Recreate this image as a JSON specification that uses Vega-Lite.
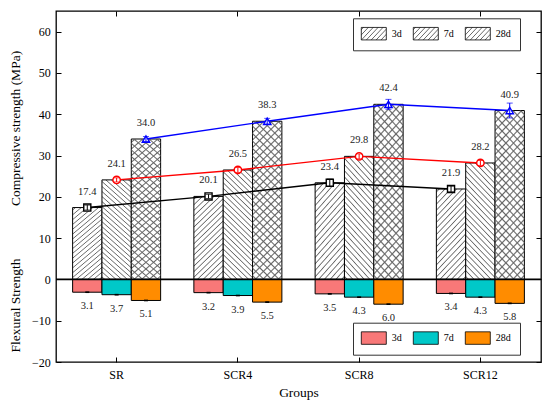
{
  "$schema": "https://vega.github.io/schema/vega-lite/v6.json",
  "width": 485,
  "height": 351,
  "autosize": {"type": "none"},
  "padding": {"left": 56, "top": 11, "right": 9, "bottom": 46},
  "background": "white",
  "config": {
    "font": "Liberation Serif, Times New Roman, serif",
    "view": {"stroke": "black", "strokeWidth": 1.3},
    "axis": {
      "grid": false,
      "domain": false,
      "tickColor": "black",
      "tickWidth": 1,
      "labelFont": "Liberation Serif, Times New Roman, serif",
      "labelFontSize": 12,
      "labelColor": "black",
      "titleFont": "Liberation Serif, Times New Roman, serif",
      "titleFontSize": 13.5,
      "titleFontWeight": "normal",
      "titleColor": "black"
    },
    "legend": {
      "symbolType": "M-2,-1H2V1H-2Z",
      "symbolSize": 156.25,
      "symbolStrokeWidth": 0.8,
      "symbolStrokeColor": "black",
      "symbolOffset": 5.5,
      "labelOffset": 11,
      "padding": 8.3,
      "columnPadding": 9,
      "strokeColor": "#333",
      "labelFont": "Liberation Serif, Times New Roman, serif",
      "labelFontSize": 10,
      "labelColor": "black"
    }
  },
  "data": {
    "values": [
      {"group": "SR", "age": "3d", "comp": 17.4, "compLo": 16.8, "compHi": 18.0, "flex": 3.1, "flexLo": 2.9, "flexHi": 3.3},
      {"group": "SR", "age": "7d", "comp": 24.1, "compLo": 23.6, "compHi": 24.6, "flex": 3.7, "flexLo": 3.5, "flexHi": 3.9},
      {"group": "SR", "age": "28d", "comp": 34.0, "compLo": 33.4, "compHi": 34.6, "flex": 5.1, "flexLo": 4.9, "flexHi": 5.3},
      {"group": "SCR4", "age": "3d", "comp": 20.1, "compLo": 19.6, "compHi": 20.6, "flex": 3.2, "flexLo": 3.0, "flexHi": 3.4},
      {"group": "SCR4", "age": "7d", "comp": 26.5, "compLo": 25.9, "compHi": 27.1, "flex": 3.9, "flexLo": 3.7, "flexHi": 4.1},
      {"group": "SCR4", "age": "28d", "comp": 38.3, "compLo": 37.6, "compHi": 39.0, "flex": 5.5, "flexLo": 5.3, "flexHi": 5.7},
      {"group": "SCR8", "age": "3d", "comp": 23.4, "compLo": 22.5, "compHi": 24.3, "flex": 3.5, "flexLo": 3.3, "flexHi": 3.7},
      {"group": "SCR8", "age": "7d", "comp": 29.8, "compLo": 29.2, "compHi": 30.4, "flex": 4.3, "flexLo": 4.1, "flexHi": 4.5},
      {"group": "SCR8", "age": "28d", "comp": 42.4, "compLo": 41.2, "compHi": 43.6, "flex": 6.0, "flexLo": 5.8, "flexHi": 6.2},
      {"group": "SCR12", "age": "3d", "comp": 21.9, "compLo": 21.2, "compHi": 22.6, "flex": 3.4, "flexLo": 3.2, "flexHi": 3.6},
      {"group": "SCR12", "age": "7d", "comp": 28.2, "compLo": 27.6, "compHi": 28.8, "flex": 4.3, "flexLo": 4.1, "flexHi": 4.5},
      {"group": "SCR12", "age": "28d", "comp": 40.9, "compLo": 39.1, "compHi": 42.7, "flex": 5.8, "flexLo": 5.6, "flexHi": 6.0}
    ]
  },
  "resolve": {"scale": {"y": "independent"}, "axis": {"x": "independent"}},
  "layer": [
    {
      "encoding": {
        "x": {
          "field": "group", "type": "nominal",
          "scale": {"domain": ["SR", "SCR4", "SCR8", "SCR12"], "paddingInner": 0.274, "paddingOuter": 0.137},
          "axis": {"orient": "bottom", "labelAngle": 0, "tickSize": -5, "labelPadding": 12, "title": "Groups", "titleY": 30, "titleBaseline": "middle"}
        },
        "xOffset": {"field": "age", "type": "nominal", "scale": {"domain": ["3d", "7d", "28d"], "paddingInner": 0, "paddingOuter": 0}},
        "y": {
          "field": "comp", "type": "quantitative",
          "scale": {"domain": [-20, 65], "nice": false, "zero": false},
          "axis": {"orient": "left", "values": [-20, -10, 0, 10, 20, 30, 40, 50, 60], "tickSize": -5, "labelPadding": 10.7,
                   "title": "Compressive strength (MPa)", "titleX": -41, "titleY": 117, "titleAngle": -90, "titleBaseline": "middle", "titleAlign": "center"}
        }
      },
      "layer": [
        {
          "transform": [{"filter": "datum.age === '3d'"}],
          "mark": {"type": "bar", "stroke": "black", "strokeWidth": 1,
            "fill": {"gradient": "linear", "x1": 0, "y1": 0, "x2": 0.412, "y2": 1.202, "stops": [
              {"offset": 0.015, "color": "#fff"}, {"offset": 0.025, "color": "#666"}, {"offset": 0.035, "color": "#fff"},
              {"offset": 0.065, "color": "#fff"}, {"offset": 0.075, "color": "#666"}, {"offset": 0.085, "color": "#fff"},
              {"offset": 0.115, "color": "#fff"}, {"offset": 0.125, "color": "#666"}, {"offset": 0.135, "color": "#fff"},
              {"offset": 0.165, "color": "#fff"}, {"offset": 0.175, "color": "#666"}, {"offset": 0.185, "color": "#fff"},
              {"offset": 0.215, "color": "#fff"}, {"offset": 0.225, "color": "#666"}, {"offset": 0.235, "color": "#fff"},
              {"offset": 0.265, "color": "#fff"}, {"offset": 0.275, "color": "#666"}, {"offset": 0.285, "color": "#fff"},
              {"offset": 0.315, "color": "#fff"}, {"offset": 0.325, "color": "#666"}, {"offset": 0.335, "color": "#fff"},
              {"offset": 0.365, "color": "#fff"}, {"offset": 0.375, "color": "#666"}, {"offset": 0.385, "color": "#fff"},
              {"offset": 0.415, "color": "#fff"}, {"offset": 0.425, "color": "#666"}, {"offset": 0.435, "color": "#fff"},
              {"offset": 0.465, "color": "#fff"}, {"offset": 0.475, "color": "#666"}, {"offset": 0.485, "color": "#fff"},
              {"offset": 0.515, "color": "#fff"}, {"offset": 0.525, "color": "#666"}, {"offset": 0.535, "color": "#fff"},
              {"offset": 0.565, "color": "#fff"}, {"offset": 0.575, "color": "#666"}, {"offset": 0.585, "color": "#fff"},
              {"offset": 0.615, "color": "#fff"}, {"offset": 0.625, "color": "#666"}, {"offset": 0.635, "color": "#fff"},
              {"offset": 0.665, "color": "#fff"}, {"offset": 0.675, "color": "#666"}, {"offset": 0.685, "color": "#fff"},
              {"offset": 0.715, "color": "#fff"}, {"offset": 0.725, "color": "#666"}, {"offset": 0.735, "color": "#fff"},
              {"offset": 0.765, "color": "#fff"}, {"offset": 0.775, "color": "#666"}, {"offset": 0.785, "color": "#fff"},
              {"offset": 0.815, "color": "#fff"}, {"offset": 0.825, "color": "#666"}, {"offset": 0.835, "color": "#fff"},
              {"offset": 0.865, "color": "#fff"}, {"offset": 0.875, "color": "#666"}, {"offset": 0.885, "color": "#fff"},
              {"offset": 0.915, "color": "#fff"}, {"offset": 0.925, "color": "#666"}, {"offset": 0.935, "color": "#fff"},
              {"offset": 0.965, "color": "#fff"}, {"offset": 0.975, "color": "#666"}, {"offset": 0.985, "color": "#fff"}
            ]}
          },
          "encoding": {
            "stroke": {
              "field": "age", "type": "nominal",
              "scale": {"domain": ["3d", "7d", "28d"], "range": ["black", "black", "black"]},
              "legend": {
                "orient": "none", "legendX": 297, "legendY": 7.3, "direction": "horizontal", "title": null, "fillColor": "white",
                "encode": {
                  "symbols": {
                    "shape": {
                      "condition": [
                        {"test": "datum.value === '3d'", "value": "M-2,-1H2V1H-2ZM-2,-0.6L-1.6,-1M-2,0.2L-0.8,-1M-2,1L0,-1M-1.2,1L0.8,-1M-0.4,1L1.6,-1M0.4,1L2,-0.6M1.2,1L2,0.2"},
                        {"test": "datum.value === '7d'", "value": "M-2,-1H2V1H-2ZM2,-0.6L1.6,-1M2,0.2L0.8,-1M2,1L0,-1M1.2,1L-0.8,-1M0.4,1L-1.6,-1M-0.4,1L-2,-0.6M-1.2,1L-2,0.2"}
                      ],
                      "value": "M-2,-1H2V1H-2ZM-2,-0.6L-1.6,-1M-2,0.2L-0.8,-1M-2,1L0,-1M-1.2,1L0.8,-1M-0.4,1L1.6,-1M0.4,1L2,-0.6M1.2,1L2,0.2M2,-0.6L1.6,-1M2,0.2L0.8,-1M2,1L0,-1M1.2,1L-0.8,-1M0.4,1L-1.6,-1M-0.4,1L-2,-0.6M-1.2,1L-2,0.2"
                    },
                    "fill": {"value": "white"},
                    "stroke": {"value": "black"}
                  }
                }
              }
            }
          }
        },
        {
          "transform": [{"filter": "datum.age === '7d'"}],
          "mark": {"type": "bar", "stroke": "black", "strokeWidth": 1,
            "fill": {"gradient": "linear", "x1": 0, "y1": 1, "x2": 0.309, "y2": -0.181, "stops": [
              {"offset": 0.012, "color": "#fff"}, {"offset": 0.02, "color": "#666"}, {"offset": 0.028, "color": "#fff"},
              {"offset": 0.052, "color": "#fff"}, {"offset": 0.06, "color": "#666"}, {"offset": 0.068, "color": "#fff"},
              {"offset": 0.092, "color": "#fff"}, {"offset": 0.1, "color": "#666"}, {"offset": 0.108, "color": "#fff"},
              {"offset": 0.132, "color": "#fff"}, {"offset": 0.14, "color": "#666"}, {"offset": 0.148, "color": "#fff"},
              {"offset": 0.172, "color": "#fff"}, {"offset": 0.18, "color": "#666"}, {"offset": 0.188, "color": "#fff"},
              {"offset": 0.212, "color": "#fff"}, {"offset": 0.22, "color": "#666"}, {"offset": 0.228, "color": "#fff"},
              {"offset": 0.252, "color": "#fff"}, {"offset": 0.26, "color": "#666"}, {"offset": 0.268, "color": "#fff"},
              {"offset": 0.292, "color": "#fff"}, {"offset": 0.3, "color": "#666"}, {"offset": 0.308, "color": "#fff"},
              {"offset": 0.332, "color": "#fff"}, {"offset": 0.34, "color": "#666"}, {"offset": 0.348, "color": "#fff"},
              {"offset": 0.372, "color": "#fff"}, {"offset": 0.38, "color": "#666"}, {"offset": 0.388, "color": "#fff"},
              {"offset": 0.412, "color": "#fff"}, {"offset": 0.42, "color": "#666"}, {"offset": 0.428, "color": "#fff"},
              {"offset": 0.452, "color": "#fff"}, {"offset": 0.46, "color": "#666"}, {"offset": 0.468, "color": "#fff"},
              {"offset": 0.492, "color": "#fff"}, {"offset": 0.5, "color": "#666"}, {"offset": 0.508, "color": "#fff"},
              {"offset": 0.532, "color": "#fff"}, {"offset": 0.54, "color": "#666"}, {"offset": 0.548, "color": "#fff"},
              {"offset": 0.572, "color": "#fff"}, {"offset": 0.58, "color": "#666"}, {"offset": 0.588, "color": "#fff"},
              {"offset": 0.612, "color": "#fff"}, {"offset": 0.62, "color": "#666"}, {"offset": 0.628, "color": "#fff"},
              {"offset": 0.652, "color": "#fff"}, {"offset": 0.66, "color": "#666"}, {"offset": 0.668, "color": "#fff"},
              {"offset": 0.692, "color": "#fff"}, {"offset": 0.7, "color": "#666"}, {"offset": 0.708, "color": "#fff"},
              {"offset": 0.732, "color": "#fff"}, {"offset": 0.74, "color": "#666"}, {"offset": 0.748, "color": "#fff"},
              {"offset": 0.772, "color": "#fff"}, {"offset": 0.78, "color": "#666"}, {"offset": 0.788, "color": "#fff"},
              {"offset": 0.812, "color": "#fff"}, {"offset": 0.82, "color": "#666"}, {"offset": 0.828, "color": "#fff"},
              {"offset": 0.852, "color": "#fff"}, {"offset": 0.86, "color": "#666"}, {"offset": 0.868, "color": "#fff"},
              {"offset": 0.892, "color": "#fff"}, {"offset": 0.9, "color": "#666"}, {"offset": 0.908, "color": "#fff"},
              {"offset": 0.932, "color": "#fff"}, {"offset": 0.94, "color": "#666"}, {"offset": 0.948, "color": "#fff"},
              {"offset": 0.972, "color": "#fff"}, {"offset": 0.98, "color": "#666"}, {"offset": 0.988, "color": "#fff"}
            ]}
          }
        },
        {
          "transform": [{"filter": "datum.age === '28d'"}],
          "mark": {"type": "bar", "stroke": "black", "strokeWidth": 1,
            "fill": {"gradient": "linear", "x1": 0, "y1": 0, "x2": 0.209, "y2": 1.144, "stops": [
              {"offset": 0.012, "color": "#fff"}, {"offset": 0.02, "color": "#666"}, {"offset": 0.028, "color": "#fff"},
              {"offset": 0.052, "color": "#fff"}, {"offset": 0.06, "color": "#666"}, {"offset": 0.068, "color": "#fff"},
              {"offset": 0.092, "color": "#fff"}, {"offset": 0.1, "color": "#666"}, {"offset": 0.108, "color": "#fff"},
              {"offset": 0.132, "color": "#fff"}, {"offset": 0.14, "color": "#666"}, {"offset": 0.148, "color": "#fff"},
              {"offset": 0.172, "color": "#fff"}, {"offset": 0.18, "color": "#666"}, {"offset": 0.188, "color": "#fff"},
              {"offset": 0.212, "color": "#fff"}, {"offset": 0.22, "color": "#666"}, {"offset": 0.228, "color": "#fff"},
              {"offset": 0.252, "color": "#fff"}, {"offset": 0.26, "color": "#666"}, {"offset": 0.268, "color": "#fff"},
              {"offset": 0.292, "color": "#fff"}, {"offset": 0.3, "color": "#666"}, {"offset": 0.308, "color": "#fff"},
              {"offset": 0.332, "color": "#fff"}, {"offset": 0.34, "color": "#666"}, {"offset": 0.348, "color": "#fff"},
              {"offset": 0.372, "color": "#fff"}, {"offset": 0.38, "color": "#666"}, {"offset": 0.388, "color": "#fff"},
              {"offset": 0.412, "color": "#fff"}, {"offset": 0.42, "color": "#666"}, {"offset": 0.428, "color": "#fff"},
              {"offset": 0.452, "color": "#fff"}, {"offset": 0.46, "color": "#666"}, {"offset": 0.468, "color": "#fff"},
              {"offset": 0.492, "color": "#fff"}, {"offset": 0.5, "color": "#666"}, {"offset": 0.508, "color": "#fff"},
              {"offset": 0.532, "color": "#fff"}, {"offset": 0.54, "color": "#666"}, {"offset": 0.548, "color": "#fff"},
              {"offset": 0.572, "color": "#fff"}, {"offset": 0.58, "color": "#666"}, {"offset": 0.588, "color": "#fff"},
              {"offset": 0.612, "color": "#fff"}, {"offset": 0.62, "color": "#666"}, {"offset": 0.628, "color": "#fff"},
              {"offset": 0.652, "color": "#fff"}, {"offset": 0.66, "color": "#666"}, {"offset": 0.668, "color": "#fff"},
              {"offset": 0.692, "color": "#fff"}, {"offset": 0.7, "color": "#666"}, {"offset": 0.708, "color": "#fff"},
              {"offset": 0.732, "color": "#fff"}, {"offset": 0.74, "color": "#666"}, {"offset": 0.748, "color": "#fff"},
              {"offset": 0.772, "color": "#fff"}, {"offset": 0.78, "color": "#666"}, {"offset": 0.788, "color": "#fff"},
              {"offset": 0.812, "color": "#fff"}, {"offset": 0.82, "color": "#666"}, {"offset": 0.828, "color": "#fff"},
              {"offset": 0.852, "color": "#fff"}, {"offset": 0.86, "color": "#666"}, {"offset": 0.868, "color": "#fff"},
              {"offset": 0.892, "color": "#fff"}, {"offset": 0.9, "color": "#666"}, {"offset": 0.908, "color": "#fff"},
              {"offset": 0.932, "color": "#fff"}, {"offset": 0.94, "color": "#666"}, {"offset": 0.948, "color": "#fff"},
              {"offset": 0.972, "color": "#fff"}, {"offset": 0.98, "color": "#666"}, {"offset": 0.988, "color": "#fff"}
            ]}
          }
        },
        {
          "transform": [{"filter": "datum.age === '28d'"}],
          "mark": {"type": "bar", "strokeWidth": 0,
            "fill": {"gradient": "linear", "x1": 0, "y1": 1, "x2": 0.209, "y2": -0.144, "stops": [
              {"offset": 0.012, "color": "rgba(102,102,102,0)"}, {"offset": 0.02, "color": "#666"}, {"offset": 0.028, "color": "rgba(102,102,102,0)"},
              {"offset": 0.052, "color": "rgba(102,102,102,0)"}, {"offset": 0.06, "color": "#666"}, {"offset": 0.068, "color": "rgba(102,102,102,0)"},
              {"offset": 0.092, "color": "rgba(102,102,102,0)"}, {"offset": 0.1, "color": "#666"}, {"offset": 0.108, "color": "rgba(102,102,102,0)"},
              {"offset": 0.132, "color": "rgba(102,102,102,0)"}, {"offset": 0.14, "color": "#666"}, {"offset": 0.148, "color": "rgba(102,102,102,0)"},
              {"offset": 0.172, "color": "rgba(102,102,102,0)"}, {"offset": 0.18, "color": "#666"}, {"offset": 0.188, "color": "rgba(102,102,102,0)"},
              {"offset": 0.212, "color": "rgba(102,102,102,0)"}, {"offset": 0.22, "color": "#666"}, {"offset": 0.228, "color": "rgba(102,102,102,0)"},
              {"offset": 0.252, "color": "rgba(102,102,102,0)"}, {"offset": 0.26, "color": "#666"}, {"offset": 0.268, "color": "rgba(102,102,102,0)"},
              {"offset": 0.292, "color": "rgba(102,102,102,0)"}, {"offset": 0.3, "color": "#666"}, {"offset": 0.308, "color": "rgba(102,102,102,0)"},
              {"offset": 0.332, "color": "rgba(102,102,102,0)"}, {"offset": 0.34, "color": "#666"}, {"offset": 0.348, "color": "rgba(102,102,102,0)"},
              {"offset": 0.372, "color": "rgba(102,102,102,0)"}, {"offset": 0.38, "color": "#666"}, {"offset": 0.388, "color": "rgba(102,102,102,0)"},
              {"offset": 0.412, "color": "rgba(102,102,102,0)"}, {"offset": 0.42, "color": "#666"}, {"offset": 0.428, "color": "rgba(102,102,102,0)"},
              {"offset": 0.452, "color": "rgba(102,102,102,0)"}, {"offset": 0.46, "color": "#666"}, {"offset": 0.468, "color": "rgba(102,102,102,0)"},
              {"offset": 0.492, "color": "rgba(102,102,102,0)"}, {"offset": 0.5, "color": "#666"}, {"offset": 0.508, "color": "rgba(102,102,102,0)"},
              {"offset": 0.532, "color": "rgba(102,102,102,0)"}, {"offset": 0.54, "color": "#666"}, {"offset": 0.548, "color": "rgba(102,102,102,0)"},
              {"offset": 0.572, "color": "rgba(102,102,102,0)"}, {"offset": 0.58, "color": "#666"}, {"offset": 0.588, "color": "rgba(102,102,102,0)"},
              {"offset": 0.612, "color": "rgba(102,102,102,0)"}, {"offset": 0.62, "color": "#666"}, {"offset": 0.628, "color": "rgba(102,102,102,0)"},
              {"offset": 0.652, "color": "rgba(102,102,102,0)"}, {"offset": 0.66, "color": "#666"}, {"offset": 0.668, "color": "rgba(102,102,102,0)"},
              {"offset": 0.692, "color": "rgba(102,102,102,0)"}, {"offset": 0.7, "color": "#666"}, {"offset": 0.708, "color": "rgba(102,102,102,0)"},
              {"offset": 0.732, "color": "rgba(102,102,102,0)"}, {"offset": 0.74, "color": "#666"}, {"offset": 0.748, "color": "rgba(102,102,102,0)"},
              {"offset": 0.772, "color": "rgba(102,102,102,0)"}, {"offset": 0.78, "color": "#666"}, {"offset": 0.788, "color": "rgba(102,102,102,0)"},
              {"offset": 0.812, "color": "rgba(102,102,102,0)"}, {"offset": 0.82, "color": "#666"}, {"offset": 0.828, "color": "rgba(102,102,102,0)"},
              {"offset": 0.852, "color": "rgba(102,102,102,0)"}, {"offset": 0.86, "color": "#666"}, {"offset": 0.868, "color": "rgba(102,102,102,0)"},
              {"offset": 0.892, "color": "rgba(102,102,102,0)"}, {"offset": 0.9, "color": "#666"}, {"offset": 0.908, "color": "rgba(102,102,102,0)"},
              {"offset": 0.932, "color": "rgba(102,102,102,0)"}, {"offset": 0.94, "color": "#666"}, {"offset": 0.948, "color": "rgba(102,102,102,0)"},
              {"offset": 0.972, "color": "rgba(102,102,102,0)"}, {"offset": 0.98, "color": "#666"}, {"offset": 0.988, "color": "rgba(102,102,102,0)"}
            ]}
          }
        },
        {
          "mark": {"type": "line", "strokeWidth": 1.4},
          "encoding": {
            "detail": {"field": "age", "type": "nominal"},
            "order": {"value": null},
            "stroke": {"condition": [{"test": "datum.age === '3d'", "value": "black"}, {"test": "datum.age === '7d'", "value": "red"}], "value": "blue"}
          }
        },
        {
          "transform": [{"filter": "datum.age === '3d'"}],
          "mark": {"type": "point", "shape": "square", "filled": true, "fill": "white", "stroke": "black", "strokeWidth": 1.4, "size": 50, "opacity": 1}
        },
        {
          "transform": [{"filter": "datum.age === '7d'"}],
          "mark": {"type": "point", "shape": "circle", "filled": true, "fill": "white", "stroke": "red", "strokeWidth": 1.4, "size": 55, "opacity": 1}
        },
        {
          "transform": [{"filter": "datum.age === '28d'"}],
          "mark": {"type": "point", "shape": "triangle-up", "filled": true, "fill": "white", "stroke": "blue", "strokeWidth": 1.4, "size": 55, "opacity": 1}
        },
        {
          "mark": {"type": "rule", "strokeWidth": 1},
          "encoding": {
            "y": {"field": "compLo", "type": "quantitative"},
            "y2": {"field": "compHi"},
            "stroke": {"condition": [{"test": "datum.age === '3d'", "value": "black"}, {"test": "datum.age === '7d'", "value": "red"}], "value": "blue"}
          }
        },
        {
          "mark": {"type": "tick", "thickness": 1, "size": 6},
          "encoding": {
            "y": {"field": "compLo", "type": "quantitative"},
            "color": {"condition": [{"test": "datum.age === '3d'", "value": "black"}, {"test": "datum.age === '7d'", "value": "red"}], "value": "blue"}
          }
        },
        {
          "mark": {"type": "tick", "thickness": 1, "size": 6},
          "encoding": {
            "y": {"field": "compHi", "type": "quantitative"},
            "color": {"condition": [{"test": "datum.age === '3d'", "value": "black"}, {"test": "datum.age === '7d'", "value": "red"}], "value": "blue"}
          }
        },
        {
          "mark": {"type": "text", "dy": -16, "fontSize": 10.5, "fill": "#222", "baseline": "middle"},
          "encoding": {"text": {"field": "comp", "type": "quantitative", "format": ".1f"}}
        }
      ]
    },
    {
      "encoding": {
        "x": {
          "field": "group", "type": "nominal",
          "scale": {"domain": ["SR", "SCR4", "SCR8", "SCR12"], "paddingInner": 0.274, "paddingOuter": 0.137},
          "axis": {"orient": "top", "labels": false, "tickSize": -5, "title": null}
        },
        "xOffset": {"field": "age", "type": "nominal", "scale": {"domain": ["3d", "7d", "28d"], "paddingInner": 0, "paddingOuter": 0}},
        "y": {
          "field": "flex", "type": "quantitative",
          "scale": {"domain": [-65, 20], "reverse": true, "nice": false, "zero": false},
          "axis": {"orient": "right", "values": [-60, -50, -40, -30, -20, -10, 0, 10, 20], "labels": false, "tickSize": -5,
                   "title": "Flexural Strength", "titleX": -526, "titleY": 294, "titleAngle": -90, "titleBaseline": "middle", "titleAlign": "center"}
        }
      },
      "layer": [
        {
          "mark": {"type": "bar", "stroke": "black", "strokeWidth": 1},
          "encoding": {
            "color": {
              "field": "age", "type": "nominal", "sort": ["3d", "7d", "28d"],
              "scale": {"range": ["#f87878", "#00c8c8", "#ff8c00"]},
              "legend": {
                "orient": "none", "legendX": 297, "legendY": 311.7, "direction": "horizontal", "title": null, "fillColor": "white"
              }
            }
          }
        },
        {
          "mark": {"type": "rule", "strokeWidth": 4, "color": "black"},
          "encoding": {
            "y": {"field": "flexLo", "type": "quantitative"},
            "y2": {"field": "flexHi"}
          }
        },
        {
          "mark": {"type": "text", "dy": 14, "fontSize": 10.5, "fill": "#222", "baseline": "middle"},
          "encoding": {"text": {"field": "flex", "type": "quantitative", "format": ".1f"}}
        }
      ]
    },
    {
      "data": {"values": [{"base": 0}]},
      "mark": {"type": "rule", "strokeWidth": 1.6, "color": "black"},
      "encoding": {
        "y": {"field": "base", "type": "quantitative", "scale": {"domain": [-20, 65], "nice": false}, "axis": null}
      }
    }
  ]
}
